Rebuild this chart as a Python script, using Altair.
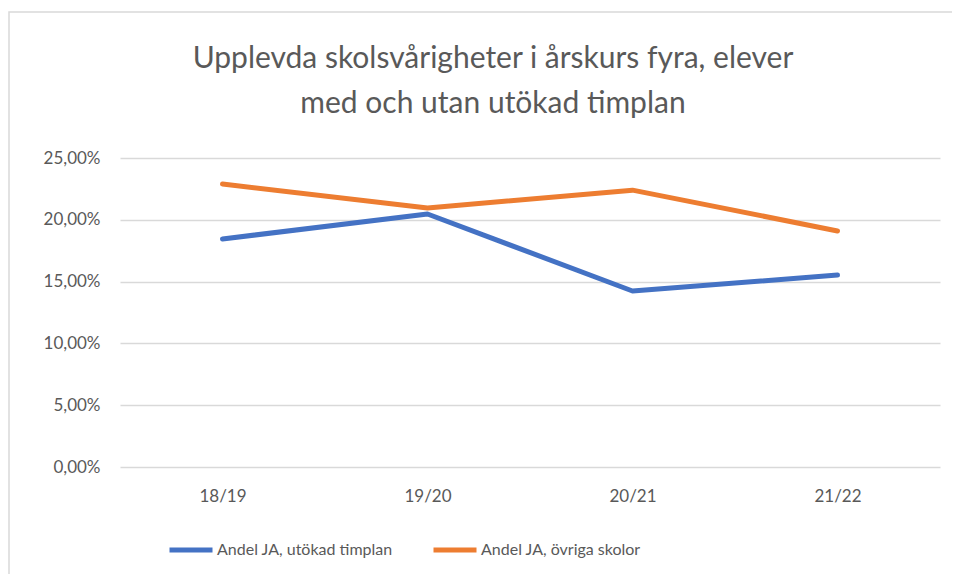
import altair as alt
import pandas as pd

years = ["18/19", "19/20", "20/21", "21/22"]
series_names = ["Andel JA, utökad timplan", "Andel JA, övriga skolor"]
utokad = [0.1845, 0.2047, 0.1424, 0.1553]
ovriga = [0.2290, 0.2095, 0.2240, 0.1910]
y_ticks = [0, 0.05, 0.10, 0.15, 0.20, 0.25]
title_lines = ["Upplevda skolsvårigheter i årskurs fyra, elever", "med och utan utökad timplan"]

rows = []
for y, v in zip(years, utokad):
    rows.append({"year": y, "series": series_names[0], "value": v})
for y, v in zip(years, ovriga):
    rows.append({"year": y, "series": series_names[1], "value": v})
df = pd.DataFrame(rows)

grey_text = "#595959"
font = "Lato"

border = alt.Chart(alt.Data(values=[{}])).mark_rect(
    fill="transparent", stroke="#d9d9d9", strokeWidth=1.5
).encode(
    x=alt.value(-111), x2=alt.value(900), y=alt.value(-146), y2=alt.value(500)
)

title1 = alt.Chart(alt.Data(values=[{"t": title_lines[0]}])).mark_text(
    fontSize=30, font=font, color=grey_text, align="center", baseline="alphabetic"
).encode(text="t:N", x=alt.value(373), y=alt.value(-90))

title2 = alt.Chart(alt.Data(values=[{"t": title_lines[1]}])).mark_text(
    fontSize=30, font=font, color=grey_text, align="center", baseline="alphabetic"
).encode(text="t:N", x=alt.value(373), y=alt.value(-45))

lines = alt.Chart(df).mark_line(strokeWidth=5, strokeCap="round", strokeJoin="round").encode(
    x=alt.X("year:N", sort=years, scale=alt.Scale(type="point", padding=0.5),
            axis=alt.Axis(title=None, labelAngle=0, ticks=False, domain=False,
                          labelFontSize=17, labelColor=grey_text, labelFont=font,
                          labelPadding=21, grid=False)),
    y=alt.Y("value:Q", scale=alt.Scale(domain=[0, 0.25], nice=False),
            axis=alt.Axis(title=None, values=y_ticks, ticks=False, domain=False,
                          labelExpr="replace(format(datum.value, '.2%'), '.', ',')",
                          labelFontSize=17, labelColor=grey_text, labelFont=font,
                          labelPadding=20, gridColor="#d9d9d9", gridWidth=1.5)),
    color=alt.Color("series:N", sort=series_names,
                    scale=alt.Scale(domain=series_names, range=["#4472C4", "#ED7D31"]),
                    legend=alt.Legend(title=None, orient="none", legendX=47, legendY=368,
                                      direction="horizontal", symbolType="stroke",
                                      symbolSize=1849, symbolStrokeWidth=5,
                                      labelFontSize=16, labelColor=grey_text, labelFont=font,
                                      labelOffset=2, columnPadding=30, labelLimit=400)),
)

chart = alt.layer(border, title1, title2, lines).properties(
    width=820, height=309,
    padding={"left": 112, "top": 150, "right": 12, "bottom": 107},
    autosize=alt.AutoSizeParams(type="none"),
).configure_view(stroke=None)

chart.save("out.html", embed_options={"renderer": "svg", "actions": False})
